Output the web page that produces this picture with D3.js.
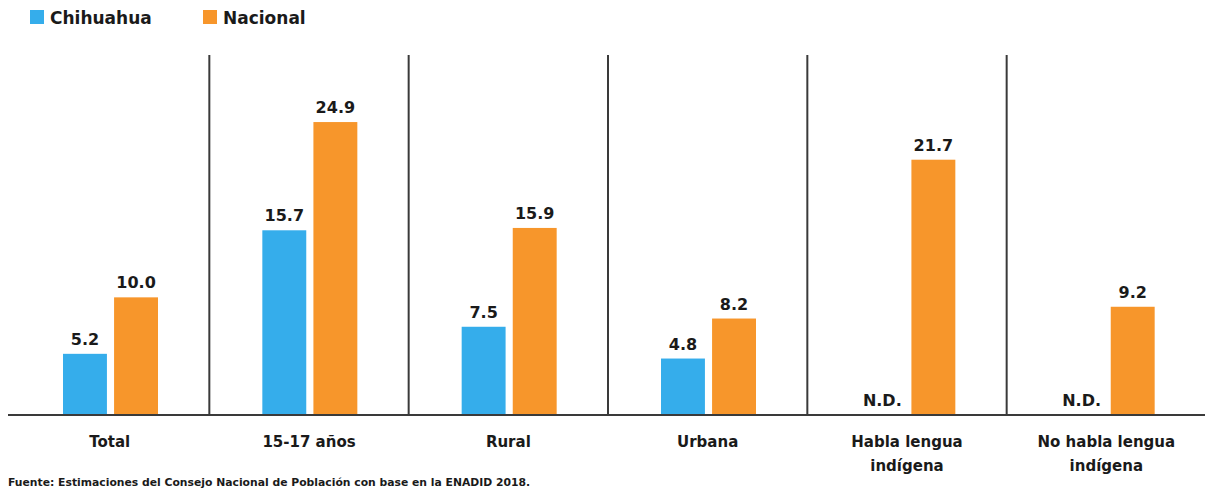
<html>
<head>
  <meta charset="utf-8" />
  <title>Chihuahua vs Nacional</title>
  <script src="https://cdn.jsdelivr.net/npm/d3@7/dist/d3.min.js"></script>
  <style>
    body { margin: 0; background: #fff; font-family: "DejaVu Sans", sans-serif; }
    svg text { font-weight: bold; fill: #1a1a1a; }
  </style>
</head>
<body>
<div id="chart"></div>
<script>
// data
var categories = ["Total", "15-17 años", "Rural", "Urbana", "Habla lengua indígena", "No habla lengua indígena"];
var catLines = [["Total"], ["15-17 años"], ["Rural"], ["Urbana"], ["Habla lengua", "indígena"], ["No habla lengua", "indígena"]];
var series = ["Chihuahua", "Nacional"];
var chihuahua = [5.2, 15.7, 7.5, 4.8, null, null];
var nacional = [10.0, 24.9, 15.9, 8.2, 21.7, 9.2];
var colors = ["#35adeb", "#f7962b"];
var source = "Fuente: Estimaciones del Consejo Nacional de Población con base en la ENADID 2018.";

var width = 1205, height = 489;
var baseY = 415, topY = 55;

var svg = d3.select("#chart").append("svg")
    .attr("width", width)
    .attr("height", height);

var x = d3.scaleBand().domain(categories).range([10, 1206]).padding(0);
var xs = d3.scaleBand().domain(series).range([53, 148]).paddingInner(0.14).paddingOuter(0);
var y = d3.scaleLinear().domain([0, 30.6]).range([baseY, topY]);

var rows = categories.map(function(c, i) {
  return { cat: c, lines: catLines[i], vals: [chihuahua[i], nacional[i]] };
});

// separators between groups
svg.selectAll("line.sep")
  .data(categories.slice(1))
  .enter().append("line")
  .attr("class", "sep")
  .attr("x1", function(d) { return x(d); })
  .attr("x2", function(d) { return x(d); })
  .attr("y1", topY)
  .attr("y2", baseY)
  .attr("stroke", "#3a3a3a")
  .attr("stroke-width", 2);

var g = svg.selectAll("g.grp")
  .data(rows)
  .enter().append("g")
  .attr("class", "grp")
  .attr("transform", function(d) { return "translate(" + x(d.cat) + ",0)"; });

var items = function(d) {
  return series.map(function(s, j) { return { s: s, v: d.vals[j], j: j }; });
};

g.selectAll("rect")
  .data(function(d) { return items(d).filter(function(e) { return e.v != null; }); })
  .enter().append("rect")
  .attr("x", function(e) { return xs(e.s); })
  .attr("width", xs.bandwidth())
  .attr("y", function(e) { return y(e.v); })
  .attr("height", function(e) { return baseY - y(e.v); })
  .attr("fill", function(e) { return colors[e.j]; });

g.selectAll("text.val")
  .data(items)
  .enter().append("text")
  .attr("class", "val")
  .attr("x", function(e) { return xs(e.s) + xs.bandwidth() / 2; })
  .attr("y", function(e) { return (e.v == null ? y(0) : y(e.v)) - 9; })
  .attr("text-anchor", "middle")
  .style("font-size", "16px")
  .text(function(e) { return e.v == null ? "N.D." : e.v.toFixed(1); });

// category labels
g.append("text")
  .attr("class", "cat")
  .attr("text-anchor", "middle")
  .attr("x", x.bandwidth() / 2)
  .attr("y", 447)
  .style("font-size", "15px")
  .selectAll("tspan")
  .data(function(d) { return d.lines; })
  .enter().append("tspan")
  .attr("x", x.bandwidth() / 2)
  .attr("dy", function(l, i) { return i ? 24 : 0; })
  .text(function(l) { return l; });

// baseline
svg.append("line")
  .attr("x1", 8).attr("x2", width)
  .attr("y1", baseY).attr("y2", baseY)
  .attr("stroke", "#3a3a3a")
  .attr("stroke-width", 2);

// legend
var legX = [30, 203];
var leg = svg.selectAll("g.leg")
  .data(series)
  .enter().append("g")
  .attr("class", "leg")
  .attr("transform", function(d, i) { return "translate(" + legX[i] + ",10)"; });
leg.append("rect")
  .attr("width", 14).attr("height", 14)
  .attr("fill", function(d, i) { return colors[i]; });
leg.append("text")
  .attr("x", 20).attr("y", 14)
  .style("font-size", "17px")
  .text(function(d) { return d; });

// source note
svg.append("text")
  .attr("x", 8).attr("y", 486)
  .style("font-size", "10.8px")
  .text(source);
</script>
</body>
</html>
